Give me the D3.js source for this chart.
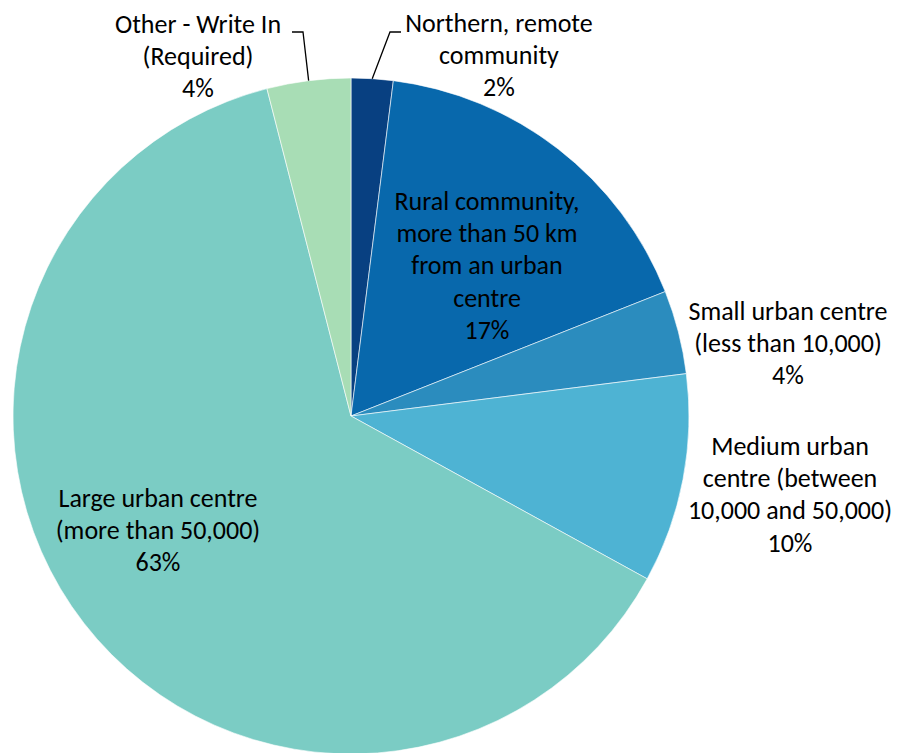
<!DOCTYPE html>
<html>
<head>
<meta charset="utf-8">
<script src="https://cdn.jsdelivr.net/npm/d3@7"></script>
<style>
  html, body { margin: 0; padding: 0; background: #fff; }
  svg { display: block; }
  text { font-family: Carlito, Calibri, Lato, "Open Sans", sans-serif; fill: #000; }
</style>
</head>
<body>
<svg id="chart" width="899" height="753"></svg>
<script>
// Community type of respondents, share of total (%)
const categories = [
  "Northern, remote community",
  "Rural community, more than 50 km from an urban centre",
  "Small urban centre (less than 10,000)",
  "Medium urban centre (between 10,000 and 50,000)",
  "Large urban centre (more than 50,000)",
  "Other - Write In (Required)"
];
const shares = [2, 17, 4, 10, 63, 4];
const colors = ["#084081", "#0868ac", "#2b8cbe", "#4eb3d3", "#7bccc4", "#a8ddb5"];

// Wrapped label lines (percentage line appended at draw time)
const labelLines = [
  ["Northern, remote", "community"],
  ["Rural community,", "more than 50 km", "from an urban", "centre"],
  ["Small urban centre", "(less than 10,000)"],
  ["Medium urban", "centre (between", "10,000 and 50,000)"],
  ["Large urban centre", "(more than 50,000)"],
  ["Other - Write In", "(Required)"]
];

// Label placement: centre x, first baseline y, optional leader elbow
const labelLayout = [
  { x: 499, y: 32, elbow: { x1: 401, x2: 390, y: 32 } },
  { x: 487, y: 210 },
  { x: 788, y: 320 },
  { x: 790, y: 455 },
  { x: 158, y: 507 },
  { x: 198, y: 33, elbow: { x1: 292, x2: 303, y: 32 } }
];

const W = 899, H = 753;
const cx = 351, cy = 416, R = 338;
const fontSize = 26, lineH = 32.2;

const svg = d3.select("#chart");
const g = svg.append("g").attr("transform", `translate(${cx},${cy})`);

const data = categories.map((c, i) => ({ name: c, value: shares[i], i }));

const pie = d3.pie().value(d => d.value).sort(null);
const arc = d3.arc().innerRadius(0).outerRadius(R);

const arcs = pie(data);

g.selectAll("path.slice")
  .data(arcs)
  .enter().append("path")
  .attr("class", "slice")
  .attr("d", arc)
  .attr("fill", d => colors[d.data.i])
  .attr("stroke", "#ffffff")
  .attr("stroke-width", 0.6);

// Leader lines for the small top slices
arcs.forEach(a => {
  const lay = labelLayout[a.data.i];
  if (!lay.elbow) return;
  const mid = (a.startAngle + a.endAngle) / 2;
  const px = cx + R * Math.sin(mid);
  const py = cy - R * Math.cos(mid);
  svg.append("polyline")
    .attr("points", `${lay.elbow.x1},${lay.elbow.y} ${lay.elbow.x2},${lay.elbow.y} ${px},${py}`)
    .attr("fill", "none")
    .attr("stroke", "#000")
    .attr("stroke-width", 1.3);
});

// Labels
arcs.forEach(a => {
  const i = a.data.i;
  const lay = labelLayout[i];
  const lines = labelLines[i].concat([d3.format(".0f")(a.data.value) + "%"]);
  const t = svg.append("text")
    .attr("text-anchor", "middle")
    .attr("font-size", fontSize);
  lines.forEach((ln, k) => {
    t.append("tspan")
      .attr("x", lay.x)
      .attr("y", lay.y + k * lineH)
      .text(ln);
  });
});
</script>
</body>
</html>
